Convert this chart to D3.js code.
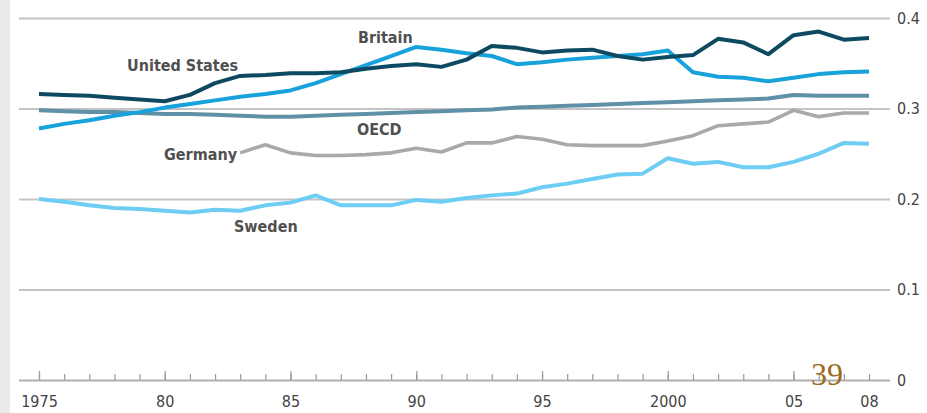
<!DOCTYPE html>
<html>
<head>
<meta charset="utf-8">
<script src="https://cdn.jsdelivr.net/npm/d3@7"></script>
<style>
  html, body { margin: 0; padding: 0; background: #fff; }
  svg { display: block; }
  .lbl { font-family: "DejaVu Sans Condensed", sans-serif; fill: #505050; }
  .tick text { font-family: "DejaVu Sans Condensed", sans-serif; fill: #444; }
</style>
</head>
<body>
<div id="graphicContainer"></div>
<script>
// years 1975..2008
var years = d3.range(1975, 2009)

var unitedStates = [0.316, 0.315, 0.314, 0.312, 0.310, 0.308, 0.315, 0.328, 0.336, 0.337,
    0.339, 0.339, 0.340, 0.344, 0.347, 0.349, 0.346, 0.354, 0.369, 0.367,
    0.362, 0.364, 0.365, 0.358, 0.354, 0.357, 0.359, 0.377, 0.373, 0.360,
    0.381, 0.385, 0.376, 0.378]

var britain = [0.278, 0.283, 0.287, 0.292, 0.296, 0.301, 0.305, 0.309, 0.313, 0.316,
    0.320, 0.328, 0.338, 0.348, 0.358, 0.368, 0.365, 0.361, 0.358, 0.349,
    0.351, 0.354, 0.356, 0.358, 0.360, 0.364, 0.340, 0.335, 0.334, 0.330,
    0.334, 0.338, 0.340, 0.341]

var oecd = [0.298, 0.297, 0.296, 0.296, 0.295, 0.294, 0.294, 0.293, 0.292, 0.291,
    0.291, 0.292, 0.293, 0.294, 0.295, 0.296, 0.297, 0.298, 0.299, 0.301,
    0.302, 0.303, 0.304, 0.305, 0.306, 0.307, 0.308, 0.309, 0.310, 0.311,
    0.315, 0.314, 0.314, 0.314]

// germany starts in 1983
var germanyYears = d3.range(1983, 2009)
var germany = [0.251, 0.260, 0.251, 0.248, 0.248, 0.249, 0.251, 0.256, 0.252, 0.262,
    0.262, 0.269, 0.266, 0.260, 0.259, 0.259, 0.259, 0.264, 0.270, 0.281,
    0.283, 0.285, 0.298, 0.291, 0.295, 0.295]

var sweden = [0.200, 0.197, 0.193, 0.190, 0.189, 0.187, 0.185, 0.188, 0.187, 0.193,
    0.196, 0.204, 0.193, 0.193, 0.193, 0.199, 0.197, 0.201, 0.204, 0.206,
    0.213, 0.217, 0.222, 0.227, 0.228, 0.245, 0.239, 0.241, 0.235, 0.235,
    0.241, 0.250, 0.262, 0.261]

var yTicks = [0, 0.1, 0.2, 0.3, 0.4]
var majorYears = [1975, 1980, 1985, 1990, 1995, 2000, 2005]
var xLabels = [1975, 1980, 1985, 1990, 1995, 2000, 2005, 2008]
var xLabelText = ["1975", "80", "85", "90", "95", "2000", "05", "08"]

function makeChart() {

    var totalWidth = 927, totalHeight = 413
    var margin = {top: 18, right: 58, bottom: 33, left: 39}
    var width = totalWidth - margin.left - margin.right,
        height = totalHeight - margin.top - margin.bottom

    var svg = d3.select("#graphicContainer").append("svg")
        .attr("width", totalWidth)
        .attr("height", totalHeight)

    // grey page edge on the left
    svg.append("rect")
        .attr("x", 0).attr("y", 0)
        .attr("width", 10).attr("height", totalHeight)
        .attr("fill", "#ebebeb")

    var g = svg.append("g")
        .attr("transform", "translate(" + margin.left + "," + margin.top + ")")

    var x = d3.scaleLinear().domain([1975, 2008]).range([0, width])
    var y = d3.scaleLinear().domain([0, 0.4]).range([height, 0])

    var gridLeft = -20, gridRight = 851

    // gridlines + right hand labels
    var yAxis = g.append("g")
        .attr("transform", "translate(" + gridRight + ",0)")
        .call(d3.axisRight(y).tickValues(yTicks)
            .tickSize(-(gridRight - gridLeft))
            .tickPadding(7)
            .tickFormat(d => d === 0 ? "0" : d3.format(".1f")(d)))
    yAxis.select(".domain").remove()
    yAxis.selectAll(".tick line").attr("stroke", "#c4c4c4").attr("stroke-width", 2)
    yAxis.selectAll(".tick text").attr("font-size", 16)
    yAxis.selectAll(".tick").filter(d => d === 0).select("line").attr("stroke", "#b0b0b0")

    // minor ticks on x axis
    var xMinor = g.append("g")
        .attr("transform", "translate(0," + height + ")")
        .call(d3.axisBottom(x).tickValues(years).tickSize(-6).tickFormat(""))
    xMinor.select(".domain").remove()
    xMinor.selectAll(".tick line").attr("stroke", "#9a9a9a").attr("stroke-width", 1.2)

    var xMajor = g.append("g")
        .attr("transform", "translate(0," + height + ")")
        .call(d3.axisBottom(x).tickValues(majorYears).tickSize(-9).tickFormat(""))
    xMajor.select(".domain").remove()
    xMajor.selectAll(".tick line").attr("stroke", "#9a9a9a").attr("stroke-width", 1.2)

    var xLab = g.append("g")
        .attr("transform", "translate(0," + height + ")")
        .call(d3.axisBottom(x).tickValues(xLabels).tickSize(0).tickPadding(16)
            .tickFormat((d, i) => xLabelText[i]))
    xLab.select(".domain").remove()
    xLab.selectAll(".tick text").attr("font-size", 16)

    var line = d3.line()
        .x(d => x(d[0]))
        .y(d => y(d[1]))

    var series = [
        {key: "Sweden", yrs: years, vals: sweden, color: "#6dcdf3", w: 4},
        {key: "Germany", yrs: germanyYears, vals: germany, color: "#a9a9a9", w: 3.6},
        {key: "OECD", yrs: years, vals: oecd, color: "#5f90a8", w: 4},
        {key: "Britain", yrs: years, vals: britain, color: "#17a2dc", w: 4},
        {key: "United States", yrs: years, vals: unitedStates, color: "#0d4a62", w: 4}
    ]

    g.selectAll(".line")
        .data(series)
        .enter()
        .append("path")
            .attr("class", "line")
            .attr("fill", "none")
            .attr("stroke", d => d.color)
            .attr("stroke-width", d => d.w)
            .attr("stroke-linejoin", "round")
            .attr("d", d => line(d.yrs.map((yr, i) => [yr, d.vals[i]])))

    // series labels, left edge + baseline in data coordinates
    var labels = [
        {text: "United States", yr: 1978.5, v: 0.3414},
        {text: "Britain", yr: 1987.68, v: 0.3724},
        {text: "OECD", yr: 1987.64, v: 0.2707},
        {text: "Germany", yr: 1979.97, v: 0.2431},
        {text: "Sweden", yr: 1982.75, v: 0.1635}
    ]

    g.selectAll(".lbl")
        .data(labels)
        .enter()
        .append("text")
            .attr("class", "lbl")
            .attr("x", d => x(d.yr))
            .attr("y", d => y(d.v))
            .attr("font-size", 16)
            .attr("font-weight", "bold")
            .attr("text-anchor", "start")
            .text(d => d.text)

    // slide page number
    svg.append("text")
        .attr("x", 827)
        .attr("y", 385)
        .attr("text-anchor", "middle")
        .attr("font-family", "'Liberation Serif', 'DejaVu Serif', serif")
        .attr("font-size", 32)
        .attr("fill", "#9b6a1c")
        .text("39")
}

makeChart()
</script>
</body>
</html>
